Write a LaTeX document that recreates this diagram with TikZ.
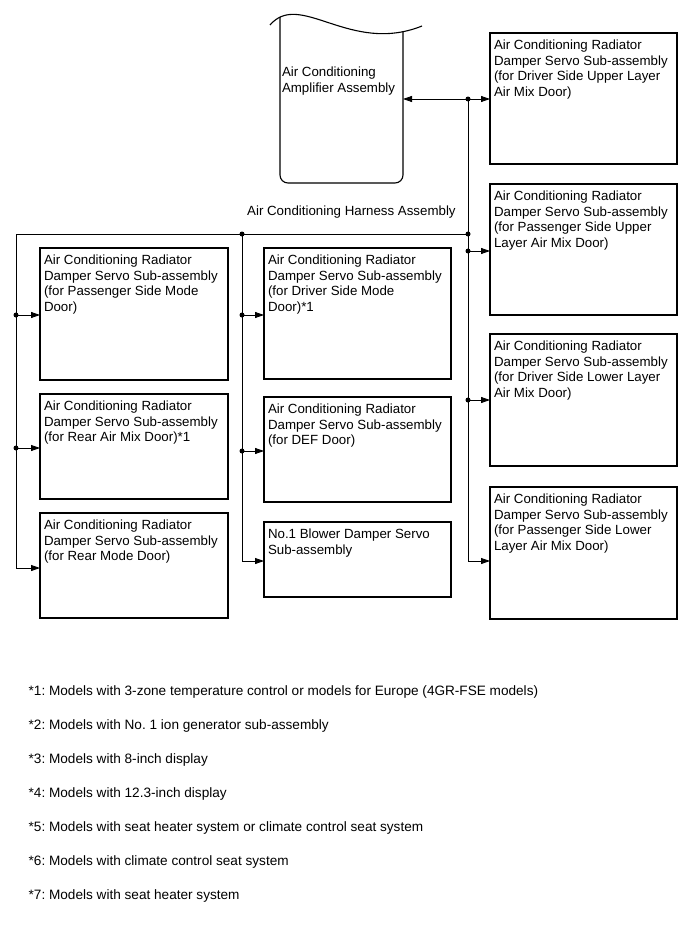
\documentclass[tikz,border=0pt]{standalone}
\usepackage{fontspec}
\setmainfont{Liberation Sans}
\usetikzlibrary{arrows.meta}
\frenchspacing
\newcommand{\boxtxt}[3]{\parbox[c][#2][t]{#1}{\raggedright\leftskip=4pt\rule{0pt}{16.5pt}#3}}
\begin{document}
\begin{tikzpicture}[x=1pt,y=-1pt,
  txt/.style={font=\fontsize{13.3}{15.7}\selectfont},
  box/.style={txt, draw, line width=1.1pt, inner sep=0pt, outer sep=0pt, anchor=north west},
  wire/.style={line width=0.8pt},
  arr/.style={wire, -{Triangle[length=9pt,width=6pt]}},
  note/.style={font=\fontsize{13.6}{16}\selectfont, anchor=base west, inner sep=0pt}]
\useasboundingbox (0,0) rectangle (689,950);
% amplifier
\node[txt, inner sep=0pt, outer sep=0pt, anchor=north west] (amp) at (280,17)
  {\parbox[c][166pt][t]{123pt}{\raggedright\leftskip=2pt\rule{0pt}{60pt}Air Conditioning\\Amplifier Assembly}};
\draw[line width=1.1pt] (270,25) .. controls (300,-10) and (350,55) .. (422,26);
\draw[line width=1.1pt, rounded corners=8pt] (amp.north west) -- (amp.south west) -- (amp.south east) -- (403,31.5);
% harness label
\node[txt, anchor=base west, inner sep=0pt] (harn) at (247,215) {Air Conditioning Harness Assembly};
% left column
\node[box] (L1) at (40,248) {\boxtxt{188pt}{132pt}{Air Conditioning Radiator\\Damper Servo Sub-assembly\\(for Passenger Side Mode\\Door)}};
\node[box] (L2) at (40,394) {\boxtxt{188pt}{105pt}{Air Conditioning Radiator\\Damper Servo Sub-assembly\\(for Rear Air Mix Door)*1}};
\node[box] (L3) at (40,513) {\boxtxt{188pt}{105pt}{Air Conditioning Radiator\\Damper Servo Sub-assembly\\(for Rear Mode Door)}};
% middle column
\node[box] (M1) at (264,248) {\boxtxt{187pt}{131pt}{Air Conditioning Radiator\\Damper Servo Sub-assembly\\(for Driver Side Mode\\Door)*1}};
\node[box] (M2) at (264,397) {\boxtxt{187pt}{105pt}{Air Conditioning Radiator\\Damper Servo Sub-assembly\\(for DEF Door)}};
\node[box] (M3) at (264,522) {\boxtxt{187pt}{75pt}{No.1 Blower Damper Servo\\Sub-assembly}};
% right column
\node[box] (R1) at (490,33) {\boxtxt{187pt}{131pt}{Air Conditioning Radiator\\Damper Servo Sub-assembly\\(for Driver Side Upper Layer\\Air Mix Door)}};
\node[box] (R2) at (490,184) {\boxtxt{187pt}{131pt}{Air Conditioning Radiator\\Damper Servo Sub-assembly\\(for Passenger Side Upper\\Layer Air Mix Door)}};
\node[box] (R3) at (490,334) {\boxtxt{187pt}{132pt}{Air Conditioning Radiator\\Damper Servo Sub-assembly\\(for Driver Side Lower Layer\\Air Mix Door)}};
\node[box] (R4) at (490,487) {\boxtxt{187pt}{132pt}{Air Conditioning Radiator\\Damper Servo Sub-assembly\\(for Passenger Side Lower\\Layer Air Mix Door)}};
% junctions
\coordinate (j0) at (468,99);
\coordinate (jH) at (468,234);
\coordinate (jM) at (242,234);
\coordinate (cL) at (16,234);
\coordinate (jR2) at (468,251);
\coordinate (jR3) at (468,400);
\coordinate (cR4) at (468,561);
\coordinate (jL1) at (16,315);
\coordinate (jL2) at (16,448);
\coordinate (cL3) at (16,568);
\coordinate (jM1) at (242,315);
\coordinate (jM2) at (242,451);
\coordinate (cM3) at (242,561);
% connectors
\draw[arr] (j0) -- (amp.east |- j0);
\draw[arr] (j0) -- (R1.west |- j0);
\draw[wire] (j0) -- (cR4);
\draw[arr] (jR2) -- (R2.west |- jR2);
\draw[arr] (jR3) -- (R3.west |- jR3);
\draw[arr] (cR4) -- (R4.west |- cR4);
\draw[wire] (jH) -- (cL) -- (cL3);
\draw[arr] (jL1) -- (L1.west |- jL1);
\draw[arr] (jL2) -- (L2.west |- jL2);
\draw[arr] (cL3) -- (L3.west |- cL3);
\draw[wire] (jM) -- (cM3);
\draw[arr] (jM1) -- (M1.west |- jM1);
\draw[arr] (jM2) -- (M2.west |- jM2);
\draw[arr] (cM3) -- (M3.west |- cM3);
\foreach \p in {j0,jH,jM,jR2,jR3,jL1,jL2,jM1,jM2} \fill (\p) circle (2.5pt);
% footnotes
\node[note] (f1) at (28.5,695) {*1: Models with 3-zone temperature control or models for Europe (4GR-FSE models)};
\node[note] (f2) at (28.5,729) {*2: Models with No. 1 ion generator sub-assembly};
\node[note] (f3) at (28.5,763) {*3: Models with 8-inch display};
\node[note] (f4) at (28.5,797) {*4: Models with 12.3-inch display};
\node[note] (f5) at (28.5,831) {*5: Models with seat heater system or climate control seat system};
\node[note] (f6) at (28.5,865) {*6: Models with climate control seat system};
\node[note] (f7) at (28.5,899) {*7: Models with seat heater system};
\end{tikzpicture}
\end{document}
